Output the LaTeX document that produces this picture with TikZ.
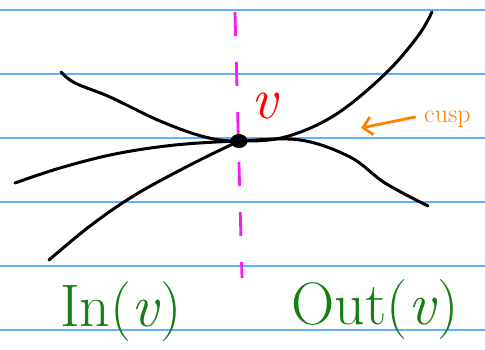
\documentclass[tikz,border=0pt]{standalone}
\usetikzlibrary{arrows.meta,shapes.geometric}
\definecolor{rose}{RGB}{240,30,240}
\definecolor{orangefl}{RGB}{255,130,0}
\definecolor{vert}{RGB}{20,125,20}
\begin{document}
\begin{tikzpicture}[
  x=1pt,y=-1pt,
  ligne/.style={draw={rgb,255:red,100;green,175;blue,255},line width=1.3pt},
  courbe/.style={line width=3pt,line cap=round,line join=round},
  coupe/.style={draw=rose,line width=2.8pt,dash pattern=on 24pt off 26pt},
  fl/.style={draw=orangefl,line width=2.8pt,line cap=round,-{Straight Barb[length=9pt,width=18pt]}},
  etiq/.style={text=vert,inner sep=0pt,font=\fontsize{60}{60}\selectfont},
]
  \useasboundingbox (0,0) rectangle (485,349);

  % Lignes du cahier
  \foreach \y in {10,74,...,330}
    \draw[ligne] (0,\y) -- (485,\y);

  % Coupe In / Out
  \coordinate (hC) at (235,12);
  \coordinate (bC) at (242,278);
  \draw[coupe] (hC) -- (bC);

  % Sommet
  \node[fill,ellipse,minimum width=17pt,minimum height=14pt,inner sep=0pt] (v) at (239,141) {};
  \node[text=red,inner sep=0pt,font=\fontsize{58}{58}\selectfont] (nv) at (266,106) {\textit{v}};

  % Extremites des courbes
  \coordinate (a1) at (61,72);
  \coordinate (a2) at (432,12);
  \coordinate (b1) at (15,183);
  \coordinate (b2) at (428,206);
  \coordinate (c1) at (49,260);

  % Courbes
  \draw[courbe] plot[smooth,tension=0.6] coordinates
    {(a1) (75,83) (110,97) (160,121) (205,137) (v) (285,137) (335,115) (385,74) (418,36) (a2)};
  \draw[courbe] plot[smooth,tension=0.6] coordinates
    {(b1) (60,168) (115,154) (175,145) (v) (300,140) (350,157) (385,183) (b2)};
  \draw[courbe] plot[smooth,tension=0.6] coordinates
    {(c1) (90,226) (135,195) (190,165) (v)};

  % Point de rebroussement
  \coordinate (fd) at (415,117);
  \coordinate (fa) at (361,128);
  \draw[fl] (fd) -- (fa);
  \node[text=orangefl,anchor=west,inner sep=0pt,font=\fontsize{26}{26}\selectfont] (cusp) at (424,119) {cusp};

  % Etiquettes
  \node[etiq] (in)  at (121,312) {In(\textit{v})};
  \node[etiq] (out) at (375,310) {Out(\textit{v})};
\end{tikzpicture}
\end{document}
